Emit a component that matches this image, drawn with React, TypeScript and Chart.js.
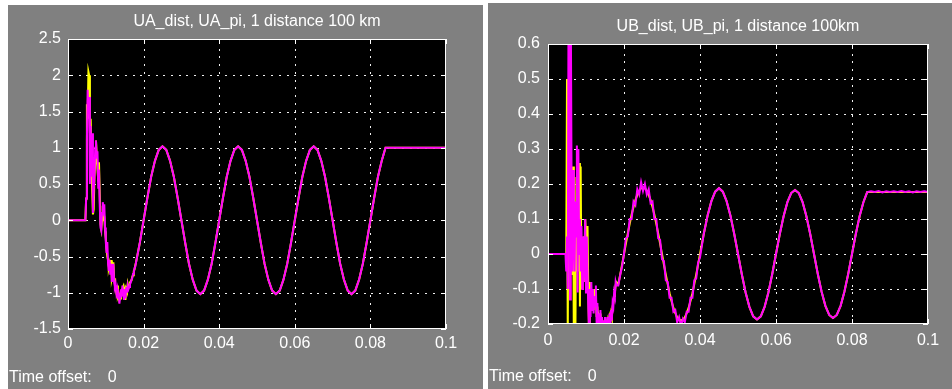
import React, { useEffect, useRef } from 'react';
import { Chart, registerables } from 'chart.js';

Chart.register(...registerables);

// ---------- Panel A: UA ----------
const uaTime = [
  0, 0.0046,
  0.0048, 0.0050, 0.0052, 0.0054, 0.0056, 0.0058, 0.0060, 0.0062, 0.0064, 0.0066,
  0.0068, 0.0070, 0.0072, 0.0074, 0.0076, 0.0078, 0.0080, 0.0082, 0.0084, 0.0086,
  0.0088, 0.0090, 0.0092, 0.0094, 0.0096, 0.0098, 0.0100, 0.0102, 0.0104, 0.0106,
  0.0108, 0.0110, 0.0112, 0.0114, 0.0116, 0.0118, 0.0120, 0.0122, 0.0124, 0.0126,
  0.0128, 0.0130, 0.0132, 0.0134, 0.0136, 0.0138, 0.0140, 0.0142, 0.0144, 0.0146,
  0.0148, 0.0150, 0.0152, 0.0154, 0.0156, 0.0158, 0.0160, 0.0162, 0.0164, 0.0166,
  0.0168, 0.0170, 0.0172, 0.0174, 0.0176, 0.0178, 0.0180,
  0.019, 0.020, 0.021, 0.022, 0.023, 0.024, 0.025, 0.026, 0.027, 0.028,
  0.029, 0.030, 0.031, 0.032, 0.033, 0.034, 0.035, 0.036, 0.037, 0.038,
  0.039, 0.040, 0.041, 0.042, 0.043, 0.044, 0.045, 0.046, 0.047, 0.048,
  0.049, 0.050, 0.051, 0.052, 0.053, 0.054, 0.055, 0.056, 0.057, 0.058,
  0.059, 0.060, 0.061, 0.062, 0.063, 0.064, 0.065, 0.066, 0.067, 0.068,
  0.069, 0.070, 0.071, 0.072, 0.073, 0.074, 0.075, 0.076, 0.077, 0.078,
  0.079, 0.080, 0.081, 0.082, 0.083, 0.084,
  0.1,
];

const uaLead = [0, 0];

const uaDistTransient = [
  0.3, 1.6, 1.4, 2.05, 2.0, 1.2, 1.4, 0.9, 0.4, 0.08,
  0.15, 0.6, 0.8, 1.1, 0.9, 0.7, 0.55, 0.8, 0.35, -0.05,
  -0.12, 0.0, 0.2, 0.1, 0.05, -0.15, -0.25, -0.4, -0.5, -0.55,
  -0.65, -0.6, -0.7, -0.55, -0.8, -0.75, -0.58, -0.8, -0.88, -0.95,
  -1.0, -0.9, -1.05, -1.02, -1.1, -1.08, -1.0, -1.0, -0.95, -0.92,
  -1.05, -0.98, -1.1, -0.95, -0.98, -0.88, -0.93, -0.9, -0.86, -0.84,
  -0.83, -0.78, -0.76, -0.7, -0.68, -0.62, -0.58,
];

const uaPiTransient = [
  0.3, 1.1, 1.8, 1.5, 1.7, 0.5, 1.3, 0.6, 1.2, 0.1,
  0.4, 0.6, 1.0, 1.1, 0.85, 0.95, 0.45, 0.7, 0.2, -0.1,
  -0.14, 0.1, 0.25, 0.15, 0.22, -0.1, -0.3, -0.45, -0.3, -0.6,
  -0.7, -0.55, -0.75, -0.6, -0.85, -0.7, -0.6, -0.85, -0.92, -0.88,
  -1.0, -0.95, -1.08, -1.0, -1.15, -1.05, -0.95, -1.05, -0.9, -1.0,
  -1.1, -0.95, -1.08, -0.92, -1.0, -0.9, -0.95, -0.92, -0.88, -0.86,
  -0.82, -0.8, -0.74, -0.72, -0.66, -0.64, -0.58,
];

const uaSteady = [
  -0.31, 0, 0.31, 0.6, 0.82, 0.97, 1.02, 0.97, 0.82, 0.6,
  0.31, 0, -0.31, -0.6, -0.82, -0.97, -1.02, -0.97, -0.82, -0.6,
  -0.31, 0, 0.31, 0.6, 0.82, 0.97, 1.02, 0.97, 0.82, 0.6,
  0.31, 0, -0.31, -0.6, -0.82, -0.97, -1.02, -0.97, -0.82, -0.6,
  -0.31, 0, 0.31, 0.6, 0.82, 0.97, 1.02, 0.97, 0.82, 0.6,
  0.31, 0, -0.31, -0.6, -0.82, -0.97, -1.02, -0.97, -0.82, -0.6,
  -0.31, 0, 0.31, 0.6, 0.82, 1.0,
  1.0,
];

const uaDist = [...uaLead, ...uaDistTransient, ...uaSteady];
const uaPi = [...uaLead, ...uaPiTransient, ...uaSteady];
const uaYTickLabels = ['-1.5', '-1', '-0.5', '0', '0.5', '1', '1.5', '2', '2.5'];

// ---------- Panel B: UB ----------
const ubTime = [
  0, 0.0046,
  0.0048, 0.0050, 0.0052, 0.0054, 0.0056, 0.0058, 0.0060, 0.0062, 0.0064, 0.0066,
  0.0068, 0.0070, 0.0072, 0.0074, 0.0076, 0.0078, 0.0080, 0.0082, 0.0084, 0.0086,
  0.0088, 0.0090, 0.0092, 0.0094, 0.0096, 0.0098, 0.0100, 0.0102, 0.0104, 0.0106,
  0.0108, 0.0110, 0.0112, 0.0114, 0.0116, 0.0118, 0.0120, 0.0122, 0.0124, 0.0126,
  0.0128, 0.0130, 0.0132, 0.0134, 0.0136, 0.0138, 0.0140, 0.0142, 0.0144, 0.0146,
  0.0148, 0.0150, 0.0152, 0.0154, 0.0156, 0.0158, 0.0160, 0.0162, 0.0164, 0.0166,
  0.0168, 0.0170, 0.0172, 0.0174, 0.0176, 0.0178, 0.0180,
  0.0185, 0.0190, 0.0195, 0.0200, 0.0205, 0.0210, 0.0215, 0.0220, 0.0225, 0.0230,
  0.0235, 0.0240, 0.0245, 0.0250, 0.0255, 0.0260, 0.0265, 0.0270, 0.0275, 0.0280,
  0.0285, 0.0290, 0.0295, 0.0300, 0.0305, 0.0310, 0.0315, 0.0320, 0.0325, 0.0330,
  0.0335, 0.0340, 0.0345, 0.0350, 0.0355, 0.0360, 0.0365, 0.0370, 0.0375, 0.0380,
  0.0385, 0.0390, 0.0395, 0.0400,
  0.041, 0.042, 0.043, 0.044, 0.045, 0.046, 0.047, 0.048, 0.049, 0.050,
  0.051, 0.052, 0.053, 0.054, 0.055, 0.056, 0.057, 0.058, 0.059, 0.060,
  0.061, 0.062, 0.063, 0.064, 0.065, 0.066, 0.067, 0.068, 0.069, 0.070,
  0.071, 0.072, 0.073, 0.074, 0.075, 0.076, 0.077, 0.078, 0.079, 0.080,
  0.081, 0.082, 0.083, 0.084,
  0.085, 0.086, 0.087, 0.088, 0.089, 0.090, 0.091, 0.092, 0.093, 0.094,
  0.095, 0.096, 0.097, 0.098, 0.099, 0.100,
];

const ubLead = [0, 0];

const ubDistTransient = [
  0.0, 0.5, -0.25, 0.35, 0.2, 0.0, 0.26, 0.1, -0.06, 0.25,
  -0.25, 0.22, -0.25, 0.1, 0.05, -0.05, 0.15, 0.26, -0.15, 0.25,
  -0.1, 0.0, -0.05, 0.05, -0.08, 0.1, 0.05, -0.05, 0.08, -0.1,
  -0.22, -0.08, -0.12, -0.1, -0.15, -0.12, -0.16, -0.1, -0.14, -0.12,
  -0.18, -0.15, -0.2, -0.18, -0.19, -0.17, -0.21, -0.2, -0.22, -0.19,
  -0.21, -0.19, -0.22, -0.2, -0.21, -0.19, -0.2, -0.18, -0.19, -0.17,
  -0.18, -0.15, -0.14, -0.12, -0.11, -0.09, -0.08,
];

const ubPiTransient = [
  -0.05, 0.05, -0.1, 0.7, 0.65, -0.13, 0.7, 0.2, -0.05, 0.24,
  0.1, -0.05, 0.15, 0.05, 0.31, -0.11, 0.3, 0.0, 0.1, -0.05,
  0.08, -0.1, 0.05, -0.08, 0.02, 0.1, -0.11, 0.05, -0.05, -0.15,
  -0.22, -0.1, -0.18, -0.08, -0.16, -0.1, -0.17, -0.12, -0.15, -0.09,
  -0.2, -0.14, -0.22, -0.17, -0.21, -0.16, -0.22, -0.18, -0.23, -0.19,
  -0.22, -0.18, -0.23, -0.19, -0.22, -0.18, -0.22, -0.17, -0.21, -0.16,
  -0.19, -0.14, -0.15, -0.11, -0.12, -0.08, -0.09,
];

const ubDistFirstCycle = [
  -0.086, -0.059, -0.03, 0, 0.03, 0.059, 0.086, 0.112, 0.134, 0.154,
  0.169, 0.181, 0.188, 0.19, 0.188, 0.181, 0.169, 0.154, 0.134, 0.112,
  0.086, 0.059, 0.03, 0, -0.03, -0.059, -0.086, -0.112, -0.134, -0.154,
  -0.169, -0.181, -0.188, -0.19, -0.188, -0.181, -0.169, -0.154, -0.134, -0.112,
  -0.086, -0.059, -0.03, 0,
];

const ubPiFirstCycle = [
  -0.09, -0.06, -0.035, 0.0, 0.045, 0.05, 0.1, 0.1, 0.15, 0.14,
  0.185, 0.17, 0.205, 0.18, 0.2, 0.17, 0.185, 0.145, 0.15, 0.1,
  0.1, 0.045, 0.04, -0.015, -0.02, -0.075, -0.08, -0.125, -0.125, -0.165,
  -0.16, -0.195, -0.18, -0.205, -0.185, -0.195, -0.165, -0.165, -0.125, -0.125,
  -0.075, -0.07, -0.025, -0.01,
];

const ubSteady = [
  0.058, 0.11, 0.151, 0.178, 0.188, 0.178, 0.151, 0.11, 0.058, 0.0,
  -0.058, -0.11, -0.151, -0.178, -0.187, -0.178, -0.151, -0.11, -0.058, 0.0,
  0.057, 0.108, 0.148, 0.174, 0.183, 0.174, 0.148, 0.108, 0.057, 0.0,
  -0.057, -0.108, -0.148, -0.174, -0.183, -0.174, -0.148, -0.108, -0.057, 0.0,
  0.057, 0.108, 0.148, 0.177,
];

const ubDistTail = [
  0.177, 0.177, 0.177, 0.177, 0.177, 0.177, 0.177, 0.177, 0.177, 0.177,
  0.177, 0.177, 0.177, 0.177, 0.177, 0.177,
];

const ubPiTail = [
  0.179, 0.177, 0.18, 0.176, 0.179, 0.177, 0.179, 0.177, 0.18, 0.177,
  0.179, 0.176, 0.179, 0.177, 0.179, 0.177,
];

const ubDist = [...ubLead, ...ubDistTransient, ...ubDistFirstCycle, ...ubSteady, ...ubDistTail];
const ubPi = [...ubLead, ...ubPiTransient, ...ubPiFirstCycle, ...ubSteady, ...ubPiTail];
const ubYTickLabels = ['-0.2', '-0.1', '0', '0.1', '0.2', '0.3', '0.4', '0.5', '0.6'];

const xTickLabels = ['0', '0.02', '0.04', '0.06', '0.08', '0.1'];

const FONT = '"Liberation Sans", Arial, sans-serif';

const labelFor = (labels: string[]) => (v: number) => {
  const found = labels.find((l) => Math.abs(parseFloat(l) - v) < 1e-7);
  return found === undefined ? '' : found;
};

const DOT_GAP = 7.7;

const scopeFrame = {
  id: 'scopeFrame',
  beforeDraw(chart: any) {
    const { ctx, chartArea: a } = chart;
    ctx.save();
    ctx.fillStyle = '#000000';
    ctx.fillRect(a.left, a.top, a.right - a.left, a.bottom - a.top);
    ctx.restore();
  },
  beforeDatasetsDraw(chart: any) {
    // dotted grid (MATLAB scope style)
    const { ctx, chartArea: a, scales } = chart;
    ctx.save();
    ctx.fillStyle = '#f0f0f0';
    scales.x.ticks.forEach((t: any) => {
      const px = Math.round(scales.x.getPixelForValue(t.value));
      if (px <= a.left + 1 || px >= a.right - 2) return;
      for (let y = a.top + 2; y < a.bottom - 2; y += DOT_GAP) {
        ctx.fillRect(px, Math.round(y), 1, 2);
      }
    });
    scales.y.ticks.forEach((t: any) => {
      const py = Math.round(scales.y.getPixelForValue(t.value));
      if (py <= a.top + 1 || py >= a.bottom - 2) return;
      for (let x = a.left + 3; x < a.right - 2; x += DOT_GAP) {
        ctx.fillRect(Math.round(x), py, 2, 1);
      }
    });
    ctx.restore();
  },
  afterDraw(chart: any) {
    const { ctx, chartArea: a, scales } = chart;
    ctx.save();
    ctx.strokeStyle = '#ffffff';
    ctx.lineWidth = 1;
    ctx.strokeRect(a.left + 0.5, a.top + 0.5, a.right - a.left - 1, a.bottom - a.top - 1);
    const len = 5;
    ctx.beginPath();
    scales.x.ticks.forEach((t: any) => {
      const px = Math.round(scales.x.getPixelForValue(t.value)) + 0.5;
      ctx.moveTo(px, a.bottom);
      ctx.lineTo(px, a.bottom - len);
      ctx.moveTo(px, a.top);
      ctx.lineTo(px, a.top + len);
    });
    scales.y.ticks.forEach((t: any) => {
      const py = Math.round(scales.y.getPixelForValue(t.value)) + 0.5;
      ctx.moveTo(a.left, py);
      ctx.lineTo(a.left + len, py);
      ctx.moveTo(a.right, py);
      ctx.lineTo(a.right - len, py);
    });
    ctx.stroke();
    ctx.restore();
  },
};

type PanelProps = {
  left: number;
  top: number;
  width: number;
  height: number;
  title: string;
  time: number[];
  dist: number[];
  pi: number[];
  distLabel: string;
  piLabel: string;
  yMin: number;
  yMax: number;
  yStep: number;
  yLabels: string[];
  plotLeft: number;
  plotTop: number;
  plotRight: number;
  plotBottom: number;
  titleCenterY: number;
  xLabelPad: number;
  yLabelPad: number;
  offsetCenterY: number;
};

function ScopePanel(p: PanelProps) {
  const ref = useRef<HTMLCanvasElement | null>(null);

  useEffect(() => {
    if (!ref.current) return;
    const lh = 16 * 1.2;
    const chart = new Chart(ref.current, {
      type: 'line',
      data: {
        datasets: [
          {
            label: p.distLabel,
            data: p.time.map((t, i) => ({ x: t, y: p.dist[i] })),
            borderColor: '#ffff00',
            backgroundColor: '#ffff00',
            borderWidth: 2,
            pointRadius: 0,
            tension: 0,
            order: 1,
          },
          {
            label: p.piLabel,
            data: p.time.map((t, i) => ({ x: t, y: p.pi[i] })),
            borderColor: '#ff00ff',
            backgroundColor: '#ff00ff',
            borderWidth: 2,
            pointRadius: 0,
            tension: 0,
            order: 0,
          },
        ],
      },
      options: {
        animation: false,
        responsive: false,
        devicePixelRatio: 1,
        events: [],
        layout: {
          padding: { left: 0, top: 0, bottom: 0, right: p.width - p.plotRight },
        },
        plugins: {
          legend: { display: false },
          tooltip: { enabled: false },
          title: {
            display: true,
            text: p.title,
            color: '#ffffff',
            fullSize: false,
            font: { family: FONT, size: 16, weight: 'normal', lineHeight: 1.2 },
            padding: {
              top: p.titleCenterY - lh / 2,
              bottom: p.plotTop - p.titleCenterY - lh / 2,
            },
          },
        },
        scales: {
          x: {
            type: 'linear',
            min: 0,
            max: 0.1,
            ticks: {
              stepSize: 0.02,
              autoSkip: false,
              maxRotation: 0,
              color: '#ffffff',
              padding: p.xLabelPad,
              font: { family: FONT, size: 16 },
              callback: (v: any) => labelFor(xTickLabels)(Number(v)),
            },
            grid: { display: false, drawTicks: false },
            border: { display: false },
            afterFit: (s: any) => {
              s.height = p.height - p.plotBottom;
            },
          },
          y: {
            type: 'linear',
            min: p.yMin,
            max: p.yMax,
            ticks: {
              stepSize: p.yStep,
              autoSkip: false,
              color: '#ffffff',
              padding: p.yLabelPad,
              font: { family: FONT, size: 16 },
              callback: (v: any) => labelFor(p.yLabels)(Number(v)),
            },
            grid: { display: false, drawTicks: false },
            border: { display: false },
            afterFit: (s: any) => {
              s.width = p.plotLeft;
            },
          },
        },
      },
      plugins: [scopeFrame],
    } as any);
    return () => chart.destroy();
  }, []);

  return (
    <div
      style={{
        position: 'absolute',
        left: p.left,
        top: p.top,
        width: p.width,
        height: p.height,
        background: '#808080',
        overflow: 'hidden',
      }}
    >
      <canvas ref={ref} width={p.width} height={p.height} style={{ display: 'block' }} />
      <div
        style={{
          position: 'absolute',
          left: 1,
          top: p.offsetCenterY - 9,
          lineHeight: '18px',
          fontFamily: FONT,
          fontSize: 16,
          color: '#ffffff',
          whiteSpace: 'pre',
        }}
      >
        Time offset:<span style={{ marginLeft: 16 }}>0</span>
      </div>
    </div>
  );
}

export default function App() {
  return (
    <div
      style={{
        position: 'absolute',
        left: 0,
        top: 0,
        width: 952,
        height: 389,
        background: '#ffffff',
        overflow: 'hidden',
      }}
    >
      <ScopePanel
        left={8}
        top={5}
        width={475}
        height={384}
        title="UA_dist, UA_pi, 1 distance 100 km"
        time={uaTime}
        dist={uaDist}
        pi={uaPi}
        distLabel="UA_dist"
        piLabel="UA_pi"
        yMin={-1.5}
        yMax={2.5}
        yStep={0.5}
        yLabels={uaYTickLabels}
        plotLeft={60}
        plotTop={34}
        plotRight={438}
        plotBottom={324}
        titleCenterY={17}
        xLabelPad={5}
        yLabelPad={7}
        offsetCenterY={372}
      />
      <ScopePanel
        left={488}
        top={3}
        width={464}
        height={386}
        title="UB_dist, UB_pi, 1 distance 100km"
        time={ubTime}
        dist={ubDist}
        pi={ubPi}
        distLabel="UB_dist"
        piLabel="UB_pi"
        yMin={-0.2}
        yMax={0.6}
        yStep={0.1}
        yLabels={ubYTickLabels}
        plotLeft={60}
        plotTop={41}
        plotRight={440}
        plotBottom={321}
        titleCenterY={24}
        xLabelPad={7}
        yLabelPad={8}
        offsetCenterY={373}
      />
    </div>
  );
}
